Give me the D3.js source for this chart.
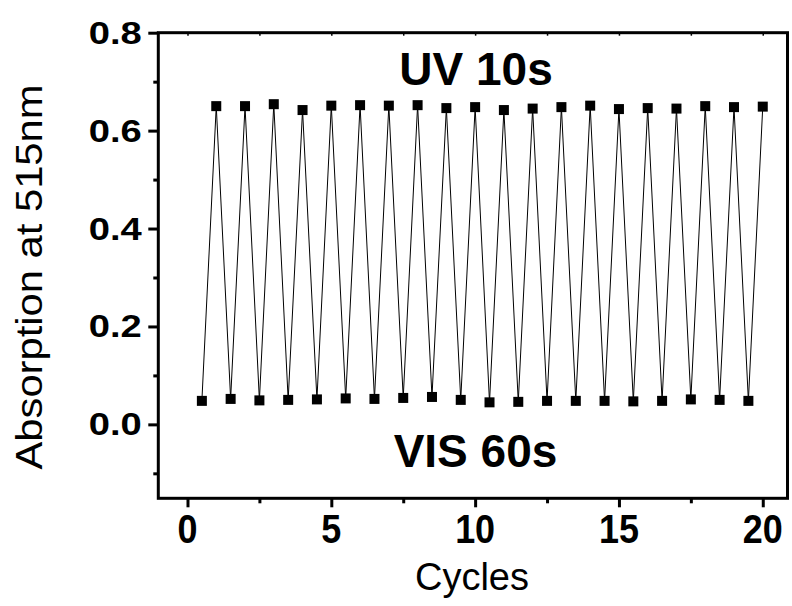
<!DOCTYPE html>
<html>
<head>
<meta charset="utf-8">
<script src="https://cdn.jsdelivr.net/npm/d3@7.9.0/dist/d3.min.js"></script>
<style>
  body { margin: 0; background: #fff; }
  svg { display: block; }
  text { font-family: "Liberation Sans", Arial, sans-serif; fill: #000; }
</style>
</head>
<body>
<svg id="chart" width="792" height="606"></svg>
<script>
// cycle positions (VIS after 60s, UV after 10s)
const visX = [0.5, 1.5, 2.5, 3.5, 4.5, 5.5, 6.5, 7.5, 8.5, 9.5, 10.5, 11.5, 12.5, 13.5, 14.5, 15.5, 16.5, 17.5, 18.5, 19.5];
const visY = [0.048, 0.052, 0.049, 0.050, 0.051, 0.053, 0.052, 0.054, 0.056, 0.050, 0.045, 0.046, 0.048, 0.048, 0.048, 0.047, 0.048, 0.051, 0.050, 0.048];
const uvX = [1, 2, 3, 4, 5, 6, 7, 8, 9, 10, 11, 12, 13, 14, 15, 16, 17, 18, 19, 20];
const uvY = [0.650, 0.650, 0.654, 0.642, 0.651, 0.652, 0.651, 0.652, 0.646, 0.648, 0.642, 0.645, 0.648, 0.651, 0.644, 0.646, 0.645, 0.650, 0.648, 0.649];

const xTicks = [0, 5, 10, 15, 20];
const xMinor = [2.5, 7.5, 12.5, 17.5];
const yTicks = [0.0, 0.2, 0.4, 0.6, 0.8];
const yMinor = [-0.1, 0.1, 0.3, 0.5, 0.7];

const plotL = 158.3, plotR = 787.5, plotT = 32.7, plotB = 498.3;

const x = d3.scaleLinear().domain([-1.015, 20.86]).range([plotL, plotR]);
const y = d3.scaleLinear().domain([-0.151, 0.8]).range([plotB, plotT]);

// interleave the two series in measurement order
const points = [];
visX.forEach((v, i) => {
  points.push({ x: v, y: visY[i] });
  points.push({ x: uvX[i], y: uvY[i] });
});

const svg = d3.select("#chart");

// connecting line
svg.append("path")
  .datum(points)
  .attr("fill", "none")
  .attr("stroke", "#000")
  .attr("stroke-width", 1)
  .attr("d", d3.line().x(d => x(d.x)).y(d => y(d.y)));

// square markers
svg.selectAll("rect.pt")
  .data(points)
  .join("rect")
  .attr("class", "pt")
  .attr("x", d => x(d.x) - 5)
  .attr("y", d => y(d.y) - 5)
  .attr("width", 10)
  .attr("height", 10)
  .attr("fill", "#000");

// frame
svg.append("rect")
  .attr("x", plotL).attr("y", plotT)
  .attr("width", plotR - plotL).attr("height", plotB - plotT)
  .attr("fill", "none").attr("stroke", "#000").attr("stroke-width", 3);

// bottom axis
const xAxis = svg.append("g").attr("transform", `translate(0,${plotB})`);
xAxis.call(d3.axisBottom(x).tickValues(xTicks).tickSize(9).tickFormat(""));
xAxis.select(".domain").remove();
xAxis.selectAll("line").attr("stroke-width", 3);

const xMin = svg.append("g").attr("transform", `translate(0,${plotB})`);
xMin.call(d3.axisBottom(x).tickValues(xMinor).tickSize(5).tickFormat(""));
xMin.select(".domain").remove();
xMin.selectAll("line").attr("stroke-width", 3);

svg.selectAll("text.xl")
  .data(xTicks)
  .join("text")
  .attr("class", "xl")
  .attr("x", d => x(d))
  .attr("y", 542.7)
  .attr("text-anchor", "middle")
  .attr("font-size", 40)
  .attr("font-weight", "bold")
  .attr("textLength", d => String(d).length * 20)
  .attr("lengthAdjust", "spacingAndGlyphs")
  .text(d => d);

// top axis ticks (small, inward)
const topAxis = svg.append("g").attr("transform", `translate(0,${plotT})`);
topAxis.call(d3.axisTop(x).tickValues(xTicks.concat(xMinor)).tickSize(-3).tickFormat(""));
topAxis.select(".domain").remove();
topAxis.selectAll("line").attr("stroke-width", 1.5);

// left axis
const yAxis = svg.append("g").attr("transform", `translate(${plotL},0)`);
yAxis.call(d3.axisLeft(y).tickValues(yTicks).tickSize(10).tickFormat(""));
yAxis.select(".domain").remove();
yAxis.selectAll("line").attr("stroke-width", 3);

const yMin = svg.append("g").attr("transform", `translate(${plotL},0)`);
yMin.call(d3.axisLeft(y).tickValues(yMinor).tickSize(5).tickFormat(""));
yMin.select(".domain").remove();
yMin.selectAll("line").attr("stroke-width", 3);

svg.selectAll("text.yl")
  .data(yTicks)
  .join("text")
  .attr("class", "yl")
  .attr("x", 141.7)
  .attr("y", d => y(d) + 11)
  .attr("text-anchor", "end")
  .attr("font-size", 30.5)
  .attr("font-weight", "bold")
  .attr("textLength", 53)
  .attr("lengthAdjust", "spacingAndGlyphs")
  .text(d3.format(".1f"));

// axis titles
svg.append("text")
  .attr("x", 472).attr("y", 590)
  .attr("text-anchor", "middle")
  .attr("font-size", 38)
  .text("Cycles");

svg.append("text")
  .attr("transform", "translate(42,277) rotate(-90)")
  .attr("text-anchor", "middle")
  .attr("font-size", 37)
  .attr("textLength", 385)
  .attr("lengthAdjust", "spacingAndGlyphs")
  .text("Absorption at 515nm");

// annotations
svg.append("text")
  .attr("x", 476).attr("y", 85)
  .attr("text-anchor", "middle")
  .attr("font-size", 46)
  .attr("font-weight", "bold")
  .text("UV 10s");

svg.append("text")
  .attr("x", 475.5).attr("y", 467)
  .attr("text-anchor", "middle")
  .attr("font-size", 46)
  .attr("font-weight", "bold")
  .text("VIS 60s");
</script>
</body>
</html>
